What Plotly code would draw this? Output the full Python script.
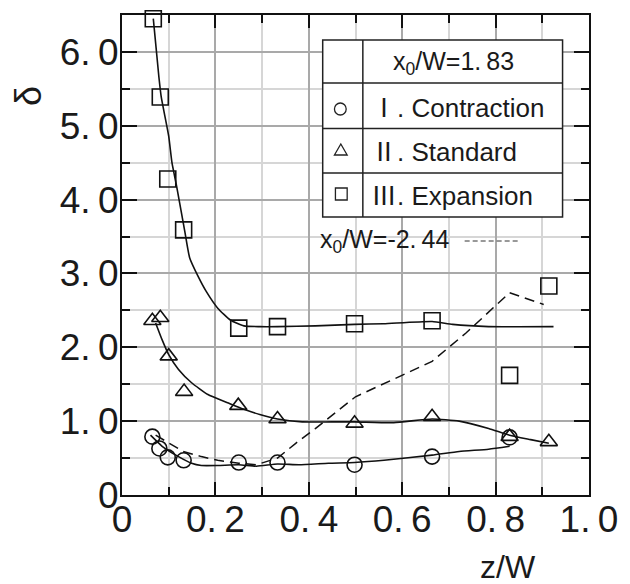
import plotly.graph_objects as go

# ---------------- data ----------------
contraction_x = [0.065, 0.080, 0.098, 0.132, 0.250, 0.333, 0.498, 0.664, 0.830]
contraction_y = [0.79, 0.63, 0.51, 0.47, 0.44, 0.44, 0.41, 0.52, 0.78]

standard_x = [0.065, 0.082, 0.100, 0.133, 0.249, 0.333, 0.498, 0.664, 0.830, 0.914]
standard_y = [2.36, 2.40, 1.88, 1.40, 1.21, 1.03, 0.97, 1.06, 0.79, 0.72]

expansion_x = [0.067, 0.082, 0.098, 0.132, 0.250, 0.333, 0.498, 0.664, 0.830, 0.914]
expansion_y = [6.45, 5.39, 4.28, 3.59, 2.26, 2.28, 2.32, 2.36, 1.62, 2.83]

# fitted curves (x0/W = 1.83)
fit_contraction_x = [0.061, 0.086, 0.121, 0.149, 0.170, 0.205, 0.250, 0.288, 0.333, 0.379,
                     0.442, 0.498, 0.561, 0.664, 0.722, 0.785, 0.830]
fit_contraction_y = [0.81, 0.66, 0.52, 0.43, 0.40, 0.40, 0.41, 0.39, 0.42, 0.41,
                     0.43, 0.44, 0.47, 0.54, 0.59, 0.62, 0.66]

fit_standard_x = [0.072, 0.086, 0.100, 0.121, 0.149, 0.184, 0.226, 0.261, 0.295, 0.333,
                  0.386, 0.449, 0.498, 0.582, 0.664, 0.722, 0.785, 0.830, 0.875, 0.914]
fit_standard_y = [2.33, 2.10, 1.90, 1.70, 1.52, 1.36, 1.25, 1.16, 1.09, 1.03,
                  0.99, 0.99, 0.99, 0.98, 1.03, 1.00, 0.90, 0.81, 0.75, 0.70]

fit_expansion_x = [0.067, 0.079, 0.084, 0.100, 0.107, 0.117, 0.135, 0.145, 0.163, 0.180,
                   0.205, 0.232, 0.261, 0.295, 0.333, 0.414, 0.498, 0.560, 0.664, 0.708,
                   0.785, 0.924]
fit_expansion_y = [6.45, 5.66, 5.39, 4.86, 4.50, 4.18, 3.55, 3.21, 2.96, 2.76,
                   2.53, 2.37, 2.29, 2.28, 2.28, 2.29, 2.31, 2.32, 2.35, 2.31,
                   2.28, 2.28]

# dashed curve (x0/W = -2.44)
dashed_x = [0.072, 0.100, 0.131, 0.170, 0.205, 0.250, 0.288, 0.333, 0.372, 0.414,
            0.463, 0.500, 0.596, 0.664, 0.736, 0.799, 0.830, 0.903]
dashed_y = [0.81, 0.70, 0.59, 0.52, 0.47, 0.43, 0.41, 0.50, 0.70, 0.90,
            1.14, 1.33, 1.61, 1.81, 2.19, 2.55, 2.74, 2.58]

x_tickvals = [0, 0.2, 0.4, 0.6, 0.8, 1.0]
x_ticktext = ["0", "0.\u20092", "0.\u20094", "0.\u20096", "0.\u20098", "1.\u20090"]
y_tickvals = [0, 1, 2, 3, 4, 5, 6]
y_ticktext = ["0", "1.\u20090", "2.\u20090", "3.\u20090", "4.\u20090", "5.\u20090", "6.\u20090"]

legend_header = "x<sub>0</sub>/W=1.\u200983"
legend_labels = ["Ⅰ. Contraction", "Ⅱ. Standard", "Ⅲ. Expansion"]
dashed_label = "x<sub>0</sub>/W=-2.\u200944"
x_title = "z/W"
y_title = "δ"

# ---------------- layout geometry ----------------
W, H = 630, 584
L, R, T, B = 122, 31, 15, 89
PW, PH = W - L - R, H - T - B
FONT = "Liberation Sans, Arial, Noto Sans CJK JP, sans-serif"


def px(xp, yp):
    """pixel position -> paper coordinates"""
    return (xp - L) / PW, (H - B - yp) / PH


fig = go.Figure()

line_style = dict(color="#111111", width=1.6)
for fx, fy in [(fit_expansion_x, fit_expansion_y),
               (fit_standard_x, fit_standard_y),
               (fit_contraction_x, fit_contraction_y)]:
    fig.add_trace(go.Scatter(x=fx, y=fy, mode="lines", line=dict(shape="spline", smoothing=0.5, **line_style),
                             showlegend=False, hoverinfo="skip"))

fig.add_trace(go.Scatter(x=dashed_x, y=dashed_y, mode="lines",
                         line=dict(color="#111111", width=1.5, dash="10px,6px"),
                         showlegend=False, hoverinfo="skip"))

mk_line = dict(color="#111111", width=1.6)
fig.add_trace(go.Scatter(x=contraction_x, y=contraction_y, mode="markers", cliponaxis=False,
                         marker=dict(symbol="circle-open", size=15, line=mk_line, color="#111111"),
                         showlegend=False))
fig.add_trace(go.Scatter(x=standard_x, y=standard_y, mode="markers", cliponaxis=False,
                         marker=dict(symbol="triangle-up-open", size=15, line=mk_line, color="#111111"),
                         showlegend=False))
fig.add_trace(go.Scatter(x=expansion_x, y=expansion_y, mode="markers", cliponaxis=False,
                         marker=dict(symbol="square-open", size=16, line=mk_line, color="#111111"),
                         showlegend=False))

axis_common = dict(showline=True, linecolor="#111111", linewidth=2, mirror="ticks",
                   ticks="inside", tickcolor="#111111", tickwidth=2,
                   gridcolor="#a9a9a9", gridwidth=2, zeroline=False,
                   tickfont=dict(family=FONT, size=37, color="#1a1a1a"))

fig.update_xaxes(range=[0, 1.0], tickmode="array", tickvals=x_tickvals, ticktext=x_ticktext,
                 ticklen=13, ticklabelstandoff=-9,
                 minor=dict(dtick=0.1, tick0=0, ticks="inside", ticklen=8, tickwidth=2,
                            tickcolor="#111111", showgrid=True, gridcolor="#d6d6d6", gridwidth=2),
                 **axis_common)
fig.update_yaxes(range=[0, 6.5], tickmode="array", tickvals=y_tickvals, ticktext=y_ticktext,
                 ticklen=15, ticklabelstandoff=-6,
                 minor=dict(dtick=0.5, tick0=0, ticks="inside", ticklen=8, tickwidth=2,
                            tickcolor="#111111", showgrid=True, gridcolor="#d6d6d6", gridwidth=2),
                 **axis_common)

shapes = []
# legend table box
x0, y0 = px(327, 40)
x1, y1 = px(572, 217)
shapes.append(dict(type="rect", xref="paper", yref="paper", x0=x0, y0=y0, x1=x1, y1=y1,
                   line=dict(color="#222222", width=1.5), fillcolor="white", layer="above"))
cx, _ = px(368, 0)
shapes.append(dict(type="line", xref="paper", yref="paper", x0=cx, x1=cx, y0=y0, y1=y1,
                   line=dict(color="#222222", width=1.5)))
for ry in [83, 128.5, 173]:
    _, yy = px(0, ry)
    shapes.append(dict(type="line", xref="paper", yref="paper", x0=x0, x1=x1, y0=yy, y1=yy,
                       line=dict(color="#222222", width=1.5)))

# legend symbols
sym_line = dict(color="#222222", width=1.3)
a0, b0 = px(339, 103)
a1, b1 = px(351, 115)
shapes.append(dict(type="circle", xref="paper", yref="paper", x0=a0, y0=b0, x1=a1, y1=b1, line=sym_line))
p1 = px(339, 155)
p2 = px(352, 155)
p3 = px(345.5, 144)
shapes.append(dict(type="path", xref="paper", yref="paper",
                   path=f"M {p1[0]},{p1[1]} L {p2[0]},{p2[1]} L {p3[0]},{p3[1]} Z", line=sym_line))
a0, b0 = px(340, 188)
a1, b1 = px(352, 200)
shapes.append(dict(type="rect", xref="paper", yref="paper", x0=a0, y0=b0, x1=a1, y1=b1, line=sym_line))

# dashed legend sample
d0 = px(472, 241)
d1 = px(529, 241)
shapes.append(dict(type="line", xref="paper", yref="paper", x0=d0[0], x1=d1[0], y0=d0[1], y1=d1[1],
                   line=dict(color="#333333", width=1, dash="5px,3px")))

annotations = []
hx, hy = px(397, 63)
annotations.append(dict(text=legend_header, x=hx, y=hy, xref="paper", yref="paper",
                        xanchor="left", yanchor="middle", showarrow=False,
                        font=dict(family=FONT, size=25, color="#1a1a1a")))
for lab, ly in zip(legend_labels, [108, 152, 196]):
    lx, lyy = px(374, ly)
    annotations.append(dict(text=lab, x=lx, y=lyy, xref="paper", yref="paper",
                            xanchor="left", yanchor="middle", showarrow=False,
                            font=dict(family=FONT, size=26, color="#1a1a1a")))
dx, dy = px(322, 241)
annotations.append(dict(text=dashed_label, x=dx, y=dy, xref="paper", yref="paper",
                        xanchor="left", yanchor="middle", showarrow=False,
                        font=dict(family=FONT, size=25, color="#1a1a1a")))
zx, zy = px(516, 567)
annotations.append(dict(text=x_title, x=zx, y=zy, xref="paper", yref="paper",
                        xanchor="center", yanchor="middle", showarrow=False,
                        font=dict(family=FONT, size=32, color="#1a1a1a")))
ux, uy = px(27, 96)
annotations.append(dict(text=y_title, x=ux, y=uy, xref="paper", yref="paper",
                        xanchor="center", yanchor="middle", showarrow=False, textangle=-90,
                        font=dict(family=FONT, size=36, color="#1a1a1a")))

fig.update_layout(width=W, height=H, margin=dict(l=L, r=R, t=T, b=B, pad=0),
                  plot_bgcolor="white", paper_bgcolor="white",
                  shapes=shapes, annotations=annotations, showlegend=False)

fig.write_html("out.html")
